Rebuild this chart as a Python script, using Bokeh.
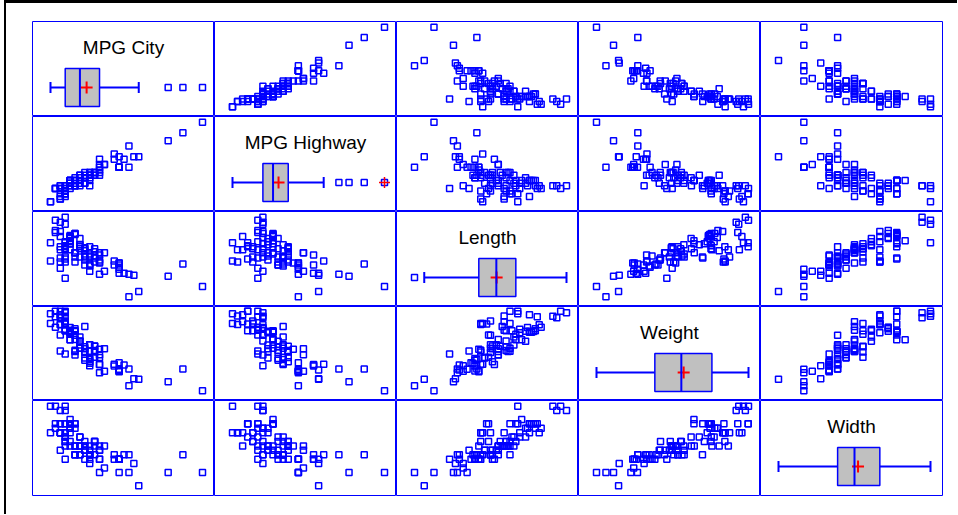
import numpy as np
from bokeh.plotting import figure
from bokeh.layouts import gridplot
from bokeh.models import Range1d
from bokeh.core.properties import value
from bokeh.embed import file_html
from bokeh.resources import INLINE

# ---------------- data (93 cars) ----------------
labels = ["MPG City", "MPG Highway", "Length", "Weight", "Width"]

mpg_city = [25, 18, 20, 19, 22, 22, 19, 16, 19, 16,
            16, 25, 25, 19, 21, 18, 15, 17, 17, 20,
            23, 20, 29, 23, 22, 17, 21, 18, 29, 20,
            31, 23, 22, 22, 24, 15, 21, 18, 46, 30,
            24, 42, 24, 29, 22, 26, 20, 17, 18, 18,
            17, 18, 29, 28, 26, 18, 17, 20, 19, 23,
            19, 29, 18, 29, 24, 17, 21, 24, 23, 18,
            19, 23, 31, 23, 19, 19, 19, 20, 28, 33,
            25, 23, 39, 32, 25, 22, 18, 25, 17, 21,
            18, 21, 20]

mpg_highway = [31, 25, 26, 26, 30, 31, 28, 25, 27, 25,
               25, 36, 34, 28, 29, 23, 20, 26, 25, 28,
               28, 26, 33, 29, 27, 21, 27, 24, 33, 28,
               33, 30, 27, 29, 30, 20, 30, 26, 50, 36,
               31, 46, 31, 33, 29, 34, 27, 22, 24, 23,
               26, 26, 37, 36, 34, 24, 25, 29, 25, 26,
               26, 33, 24, 33, 30, 23, 26, 31, 31, 23,
               28, 30, 41, 31, 28, 27, 28, 26, 38, 37,
               30, 30, 43, 37, 32, 29, 22, 33, 21, 30,
               25, 28, 28]

length = [177, 195, 180, 193, 186, 189, 200, 216, 198, 206,
          204, 182, 184, 193, 198, 178, 194, 214, 179, 203,
          183, 203, 174, 172, 181, 175, 192, 180, 174, 202,
          141, 171, 177, 180, 179, 176, 192, 212, 151, 164,
          175, 173, 185, 168, 172, 166, 184, 200, 188, 191,
          205, 219, 164, 172, 184, 175, 169, 175, 187, 166,
          199, 172, 190, 170, 181, 190, 188, 188, 190, 194,
          201, 173, 163, 181, 196, 195, 200, 184, 176, 146,
          175, 180, 161, 162, 174, 188, 187, 163, 187, 180,
          159, 190, 184]

weight = [2705, 3560, 3375, 3405, 3640, 2880, 3470, 4105, 3495, 3620,
          3935, 2490, 2785, 3240, 3195, 3715, 4025, 3910, 3380, 3515,
          3085, 3570, 2270, 2670, 2970, 3705, 3080, 3805, 2295, 3490,
          1845, 2530, 2690, 2850, 2710, 3735, 3325, 3950, 1695, 2475,
          2865, 2350, 3040, 2345, 2620, 2285, 2885, 4000, 3510, 3515,
          3695, 4055, 2325, 2440, 2970, 3735, 2895, 2920, 3525, 2450,
          3610, 2295, 3730, 2545, 3050, 4100, 3200, 2910, 2890, 4100,
          3470, 2640, 2350, 2575, 3240, 3450, 3495, 2775, 2495, 2045,
          2490, 3085, 1965, 2055, 2950, 3030, 3785, 2240, 3960, 2985,
          2810, 2985, 3245]

width = [68, 71, 67, 70, 69, 69, 74, 78, 73, 73,
         74, 66, 68, 74, 71, 74, 78, 77, 74, 74,
         68, 73, 66, 67, 68, 72, 69, 72, 66, 74,
         63, 67, 68, 68, 70, 72, 71, 78, 63, 67,
         70, 67, 70, 63, 66, 64, 69, 72, 70, 71,
         72, 77, 66, 66, 69, 72, 68, 67, 69, 65,
         73, 66, 70, 66, 67, 74, 69, 69, 69, 74,
         74, 67, 67, 66, 75, 72, 74, 67, 67, 60,
         66, 67, 63, 65, 69, 70, 69, 63, 72, 67,
         66, 67, 69]

variables = [mpg_city, mpg_highway, length, weight, width]

# ---------------- style / layout constants ----------------
BLUE = "#0000FF"
RED = "#FF0000"
BOX_FILL = "#C0C0C0"
FONT = "Liberation Sans"
COL_W = 182
ROW_H = [95, 95, 95, 94, 95]
X_PAD_L, X_PAD_R, X_SPAN = 18, 12, 152
Y_PAD_B, Y_SPAN = 9.8, 79.5
LEFT_GAP, TOP_GAP, RIGHT_GAP, BOTTOM_GAP = 26, 18, 15, 19
# diagonal-cell vertical layout (pixels from the cell top)
LABEL_Y, BOX_TOP, BOX_BOT, WHISK_Y, CAP_HALF = 26, 47, 85, 66, 5.5


def make_x_range(v):
    lo, hi = min(v), max(v)
    k = X_SPAN / (hi - lo)
    return lo - X_PAD_L / k, hi + X_PAD_R / k


def make_y_range(v, h):
    lo, hi = min(v), max(v)
    k = Y_SPAN / (hi - lo)
    return lo - Y_PAD_B / k, hi + (h - Y_SPAN - Y_PAD_B) / k


n = len(variables)
rows = []
for i, yv in enumerate(variables):
    h = ROW_H[i]
    row = []
    for j, xv in enumerate(variables):
        x0, x1 = make_x_range(xv)
        if i == j:
            yr = Range1d(h, 0)
        else:
            y0, y1 = make_y_range(yv, h)
            yr = Range1d(y0, y1)
        p = figure(frame_width=COL_W, frame_height=h,
                   x_range=Range1d(x0, x1), y_range=yr,
                   toolbar_location=None, output_backend="svg",
                   x_axis_location=None, y_axis_location=None,
                   min_border_left=LEFT_GAP if j == 0 else 0,
                   min_border_top=TOP_GAP if i == 0 else 0,
                   min_border_right=RIGHT_GAP if j == n - 1 else 0,
                   min_border_bottom=BOTTOM_GAP if i == n - 1 else 0,
                   outline_line_color=BLUE, outline_line_width=1,
                   background_fill_color="white", border_fill_color="white")
        p.grid.visible = False

        if i != j:
            p.scatter(xv, yv, marker="square", size=6, fill_color=None,
                      line_color=BLUE, line_width=1.5)
        else:
            arr = np.array(xv, dtype=float)
            q1, med, q3 = np.percentile(arr, [25, 50, 75])
            iqr = q3 - q1
            lo_f, hi_f = q1 - 1.5 * iqr, q3 + 1.5 * iqr
            wlo = arr[arr >= lo_f].min()
            whi = arr[arr <= hi_f].max()
            outl = arr[(arr < lo_f) | (arr > hi_f)]
            far = arr[(arr < q1 - 3 * iqr) | (arr > q3 + 3 * iqr)]
            mean = arr.mean()

            p.text(x=[(x0 + x1) / 2], y=[LABEL_Y], text=[labels[i]],
                   text_font=value(FONT), text_font_size="19px",
                   text_align="center", text_baseline="alphabetic",
                   text_color="black")
            p.segment(x0=[wlo, q3], y0=[WHISK_Y, WHISK_Y], x1=[q1, whi], y1=[WHISK_Y, WHISK_Y],
                      line_color=BLUE, line_width=2)
            p.segment(x0=[wlo, whi], y0=[WHISK_Y - CAP_HALF] * 2, x1=[wlo, whi],
                      y1=[WHISK_Y + CAP_HALF] * 2, line_color=BLUE, line_width=2)
            p.quad(left=[q1], right=[q3], top=[BOX_TOP], bottom=[BOX_BOT],
                   fill_color=BOX_FILL, line_color=BLUE, line_width=1.5)
            p.scatter([mean], [WHISK_Y], marker="cross", size=12, line_color=RED, line_width=2)
            p.segment(x0=[med], y0=[BOX_TOP], x1=[med], y1=[BOX_BOT],
                      line_color=BLUE, line_width=2)
            if len(outl):
                p.scatter(list(outl), [WHISK_Y] * len(outl), marker="square", size=6,
                          fill_color=None, line_color=BLUE, line_width=1.5)
            if len(far):
                p.scatter(list(far), [WHISK_Y] * len(far), marker="cross", size=11,
                          line_color=RED, line_width=1.5)
        row.append(p)
    rows.append(row)

grid = gridplot(rows, toolbar_location=None)
grid.styles = {"margin-left": "4px", "margin-top": "0px",
               "border-left": "2px solid black", "border-top": "3px solid black"}

open("out.html", "w").write(file_html(grid, INLINE))
